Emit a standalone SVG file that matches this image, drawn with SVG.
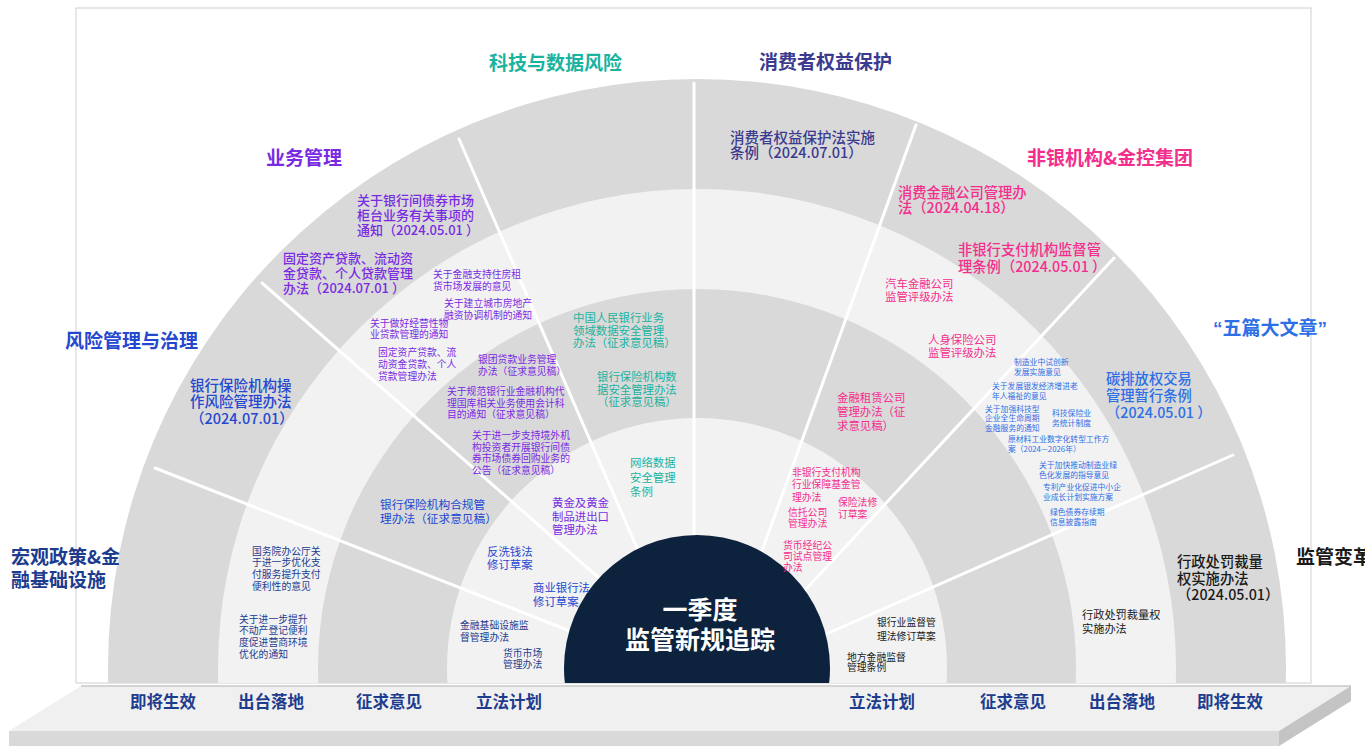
<svg xmlns="http://www.w3.org/2000/svg" width="1365" height="746" viewBox="0 0 1365 746">
<defs>
<clipPath id="clipTop"><rect x="0" y="0" width="1365" height="683"/></clipPath>
<style>
text{font-family:"Noto Sans CJK SC","Noto Sans",sans-serif;}
.title{font-size:19px;font-weight:700;}
.c-biz{fill:#7A2BE2;}
.c-tech{fill:#19B3A0;}
.c-cons{fill:#3B3A8F;}
.c-nb{fill:#F42E8C;}
.c-five{fill:#2E6FE6;}
.c-risk{fill:#2448D0;}
.c-macro{fill:#1D3C8E;}
.c-reg{fill:#1A1A1A;}
.big{font-size:14.3px;font-weight:500;}
.mid{font-size:11.4px;}
.sm{font-size:9.8px;}
.xs{font-size:7.8px;}
.stage{font-size:16.5px;font-weight:700;fill:#1D3C8E;text-anchor:middle;}
.divider{stroke:#FFFFFF;stroke-width:3;stroke-linecap:round;fill:none;}
</style>
</defs>
<rect width="1365" height="746" fill="#FFFFFF"/>
<!-- frame -->
<rect x="76" y="8" width="1235" height="675" fill="#FFFFFF" stroke="#D0D0D0" stroke-width="1"/>
<!-- rings -->
<g id="rings" clip-path="url(#clipTop)">
<circle cx="697" cy="668" r="589" fill="#D9D9D9"/>
<circle cx="697" cy="668" r="479" fill="#F2F2F2"/>
<circle cx="697" cy="668" r="379" fill="#D9D9D9"/>
<circle cx="697" cy="668" r="250" fill="#F2F2F2"/>
</g>
<!-- connectors / dividers -->
<g id="connectors" clip-path="url(#clipTop)">
<line class="divider" x1="155" y1="468" x2="575" y2="633"/>
<line class="divider" x1="262" y1="283" x2="615" y2="592"/>
<line class="divider" x1="459" y1="139" x2="640" y2="555"/>
<line class="divider" x1="694" y1="83" x2="694" y2="545"/>
<line class="divider" x1="916" y1="125" x2="758" y2="562"/>
<line class="divider" x1="1114" y1="258" x2="795" y2="601"/>
<line class="divider" x1="1233" y1="455" x2="815" y2="639"/>
</g>
<!-- center -->
<g id="center" clip-path="url(#clipTop)">
<circle cx="697" cy="668" r="133" fill="#0D223D"/>
<text x="700" y="619" text-anchor="middle" style="font-size:25px;font-weight:700;fill:#FFFFFF">一季度</text>
<text x="700" y="649" text-anchor="middle" style="font-size:25px;font-weight:700;fill:#FFFFFF">监管新规追踪</text>
</g>
<!-- base platform -->
<g id="base">
<polygon points="81,686 1351,686 1279,731 9,731" fill="#F0F0F0"/>
<line x1="81" y1="686" x2="1351" y2="686" stroke="#C8C8C8" stroke-width="1.5"/>
<rect x="9" y="731" width="1270" height="15" fill="#D9D9D9"/>
<polygon points="1279,731 1351,686 1351,701 1279,746" fill="#C4C4C4"/>
<text class="stage" x="163" y="708">即将生效</text>
<text class="stage" x="271" y="708">出台落地</text>
<text class="stage" x="389" y="708">征求意见</text>
<text class="stage" x="509" y="708">立法计划</text>
<text class="stage" x="882" y="708">立法计划</text>
<text class="stage" x="1013" y="708">征求意见</text>
<text class="stage" x="1122" y="708">出台落地</text>
<text class="stage" x="1230" y="708">即将生效</text>
</g>
<!-- category titles -->
<g id="cat-tech"><text class="title c-tech" x="489" y="70">科技与数据风险</text></g>
<g id="cat-cons"><text class="title c-cons" x="759" y="69">消费者权益保护</text></g>
<g id="cat-biz"><text class="title c-biz" x="266" y="165">业务管理</text></g>
<g id="cat-nb"><text class="title c-nb" x="1027" y="165">非银机构&amp;金控集团</text></g>
<g id="cat-risk"><text class="title c-risk" x="65" y="348">风险管理与治理</text></g>
<g id="cat-five"><text class="title c-five" x="1213" y="335"><tspan style="font-family:'Liberation Sans',sans-serif">“</tspan>五篇大文章<tspan style="font-family:'Liberation Sans',sans-serif">”</tspan></text></g>
<g id="cat-macro"><text class="title c-macro" x="11" y="564">宏观政策&amp;金<tspan x="11" dy="23">融基础设施</tspan></text></g>
<g id="cat-reg"><text class="title c-reg" x="1296" y="564">监管变革</text></g>

<!-- 业务管理 items -->
<g id="biz-1"><text class="c-biz" style="font-size:13px;font-weight:500" x="357" y="205">关于银行间债券市场<tspan x="357" dy="15">柜台业务有关事项的</tspan><tspan x="357" dy="15">通知（2024.05.01 ）</tspan></text></g>
<g id="biz-2"><text class="c-biz" style="font-size:13px;font-weight:500" x="283" y="263">固定资产贷款、流动资<tspan x="283" dy="15">金贷款、个人贷款管理</tspan><tspan x="283" dy="15">办法（2024.07.01 ）</tspan></text></g>
<g id="biz-3"><text class="c-biz sm" x="433" y="278">关于金融支持住房租<tspan x="433" dy="11.5">货市场发展的意见</tspan></text></g>
<g id="biz-4"><text class="c-biz sm" x="444" y="307">关于建立城市房地产<tspan x="444" dy="11.5">融资协调机制的通知</tspan></text></g>
<g id="biz-5"><text class="c-biz sm" x="370" y="327">关于做好经营性物<tspan x="370" dy="11">业贷款管理的通知</tspan></text></g>
<g id="biz-6"><text class="c-biz sm" x="378" y="356">固定资产贷款、流<tspan x="378" dy="12">动资金贷款、个人</tspan><tspan x="378" dy="12">贷款管理办法</tspan></text></g>
<g id="biz-7"><text class="c-biz sm" x="478" y="363">银团贷款业务管理<tspan x="478" dy="12">办法（征求意见稿）</tspan></text></g>
<g id="biz-8"><text class="c-biz sm" x="447" y="395">关于规范银行业金融机构代<tspan x="447" dy="11.5">理国库相关业务使用会计科</tspan><tspan x="447" dy="11.5">目的通知（征求意见稿）</tspan></text></g>
<g id="biz-9"><text class="c-biz sm" x="472" y="439">关于进一步支持境外机<tspan x="472" dy="11.7">构投资者开展银行间债</tspan><tspan x="472" dy="11.7">券市场债券回购业务的</tspan><tspan x="472" dy="11.7">公告（征求意见稿）</tspan></text></g>
<g id="biz-10"><text class="c-biz mid" x="552" y="507.4">黄金及黄金<tspan x="552" dy="13.5">制品进出口</tspan><tspan x="552" dy="13.5">管理办法</tspan></text></g>

<!-- 科技与数据风险 items -->
<g id="tech-1"><text class="c-tech mid" x="573" y="322.4">中国人民银行业务<tspan x="573" dy="12.5">领域数据安全管理</tspan><tspan x="573" dy="12.5">办法（征求意见稿）</tspan></text></g>
<g id="tech-2"><text class="c-tech mid" x="597" y="381.3">银行保险机构数<tspan x="597" dy="12.5">据安全管理办法</tspan><tspan x="597" dy="12.5">（征求意见稿）</tspan></text></g>
<g id="tech-3"><text class="c-tech mid" x="630" y="467.4">网络数据<tspan x="630" dy="14.5">安全管理</tspan><tspan x="630" dy="14.5">条例</tspan></text></g>

<!-- 消费者权益保护 -->
<g id="cons-1"><text class="c-cons" style="font-size:14.5px;font-weight:500" x="730" y="142.5">消费者权益保护法实施<tspan x="730" dy="15.5">条例（2024.07.01）</tspan></text></g>

<!-- 非银机构 -->
<g id="nb-1"><text class="c-nb big" x="898" y="198.4">消费金融公司管理办<tspan x="898" dy="15">法（2024.04.18）</tspan></text></g>
<g id="nb-2"><text class="c-nb big" x="958" y="255.4">非银行支付机构监督管<tspan x="958" dy="17">理条例（2024.05.01 ）</tspan></text></g>
<g id="nb-3"><text class="c-nb mid" x="885" y="288.3">汽车金融公司<tspan x="885" dy="13">监管评级办法</tspan></text></g>
<g id="nb-4"><text class="c-nb mid" x="928" y="344.3">人身保险公司<tspan x="928" dy="13">监管评级办法</tspan></text></g>
<g id="nb-5"><text class="c-nb mid" x="837" y="402.3">金融租赁公司<tspan x="837" dy="14">管理办法（征</tspan><tspan x="837" dy="14">求意见稿）</tspan></text></g>
<g id="nb-6"><text class="c-nb sm" x="792" y="475.7">非银行支付机构<tspan x="792" dy="12.5">行业保障基金管</tspan><tspan x="792" dy="12.5">理办法</tspan></text></g>
<g id="nb-7"><text class="c-nb sm" x="788" y="515.7">信托公司<tspan x="788" dy="11">管理办法</tspan></text></g>
<g id="nb-8"><text class="c-nb sm" x="838" y="505.7">保险法修<tspan x="838" dy="12">订草案</tspan></text></g>
<g id="nb-9"><text class="c-nb sm" x="783" y="548.7">货币经纪公<tspan x="783" dy="11">司试点管理</tspan><tspan x="783" dy="11">办法</tspan></text></g>

<!-- 五篇大文章 -->
<g id="five-1"><text class="c-five big" x="1106" y="384.4">碳排放权交易<tspan x="1106" dy="17">管理暂行条例</tspan><tspan x="1106" dy="17">（2024.05.01 ）</tspan></text></g>
<g id="five-2"><text class="c-five xs" x="1014" y="365">制造业中试创新<tspan x="1014" dy="9.5">发展实施意见</tspan></text></g>
<g id="five-3"><text class="c-five xs" x="992" y="389">关于发展银发经济增进老<tspan x="992" dy="9.5">年人福祉的意见</tspan></text></g>
<g id="five-4"><text class="c-five xs" x="985" y="412">关于加强科技型<tspan x="985" dy="9.3">企业全生命周期</tspan><tspan x="985" dy="9.3">金融服务的通知</tspan></text></g>
<g id="five-5"><text class="c-five xs" x="1052" y="416">科技保险业<tspan x="1052" dy="10">务统计制度</tspan></text></g>
<g id="five-6"><text class="c-five xs" x="1008" y="442">原材料工业数字化转型工作方<tspan x="1008" dy="10">案（2024—2026年）</tspan></text></g>
<g id="five-7"><text class="c-five xs" x="1039" y="468">关于加快推动制造业绿<tspan x="1039" dy="9.5">色化发展的指导意见</tspan></text></g>
<g id="five-8"><text class="c-five xs" x="1043" y="490">专利产业化促进中小企<tspan x="1043" dy="10">业成长计划实施方案</tspan></text></g>
<g id="five-9"><text class="c-five xs" x="1050" y="515">绿色债券存续期<tspan x="1050" dy="9.5">信息披露指南</tspan></text></g>

<!-- 风险管理与治理 -->
<g id="risk-1"><text class="c-risk" style="font-size:14.5px;font-weight:500" x="190" y="390.5">银行保险机构操<tspan x="190" dy="16.5">作风险管理办法</tspan><tspan x="190" dy="16.5">（2024.07.01）</tspan></text></g>
<g id="risk-2"><text class="c-risk" style="font-size:11.7px" x="380" y="509.4">银行保险机构合规管<tspan x="380" dy="14">理办法（征求意见稿）</tspan></text></g>
<g id="risk-3"><text class="c-risk mid" x="487" y="556.3">反洗钱法<tspan x="487" dy="13">修订草案</tspan></text></g>
<g id="risk-4"><text class="c-risk mid" x="533" y="592.3">商业银行法<tspan x="533" dy="14">修订草案</tspan></text></g>

<!-- 宏观政策&金融基础设施 -->
<g id="macro-1"><text class="c-macro sm" x="252" y="554.7">国务院办公厅关<tspan x="252" dy="11.7">于进一步优化支</tspan><tspan x="252" dy="11.7">付服务提升支付</tspan><tspan x="252" dy="11.7">便利性的意见</tspan></text></g>
<g id="macro-2"><text class="c-macro sm" x="239" y="622.7">关于进一步提升<tspan x="239" dy="11.7">不动产登记便利</tspan><tspan x="239" dy="11.7">度促进营商环境</tspan><tspan x="239" dy="11.7">优化的通知</tspan></text></g>
<g id="macro-3"><text class="c-macro sm" x="460" y="628.7">金融基础设施监<tspan x="460" dy="12">督管理办法</tspan></text></g>
<g id="macro-4"><text class="c-macro sm" x="503" y="656.7">货币市场<tspan x="503" dy="11">管理办法</tspan></text></g>

<!-- 监管变革 -->
<g id="reg-1"><text class="c-reg big" x="1177" y="567.4">行政处罚裁量<tspan x="1177" dy="16.5">权实施办法</tspan><tspan x="1177" dy="16.5">（2024.05.01）</tspan></text></g>
<g id="reg-2"><text class="c-reg" style="font-size:11.2px" x="1082" y="619.3">行政处罚裁量权<tspan x="1082" dy="14">实施办法</tspan></text></g>
<g id="reg-3"><text class="c-reg sm" x="877" y="625.7">银行业监督管<tspan x="877" dy="14">理法修订草案</tspan></text></g>
<g id="reg-4"><text class="c-reg sm" x="847" y="660.7">地方金融监督<tspan x="847" dy="10.5">管理条例</tspan></text></g>
</svg>
